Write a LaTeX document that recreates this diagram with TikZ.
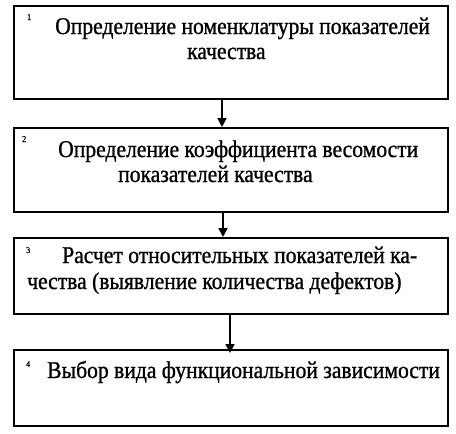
\documentclass[tikz,border=0pt]{standalone}
\usepackage{fontspec}
\setmainfont{Liberation Serif}
\newfontfamily\reffont[FakeStretch=0.9,FakeBold=1]{Liberation Serif}
\usetikzlibrary{arrows.meta}
\begin{document}
\begin{tikzpicture}[x=1pt,y=-1pt,
  box/.style={draw=black,line width=1.8pt,rectangle,inner sep=0pt,anchor=north west},
  txt/.style={inner sep=0pt,font=\reffont\fontsize{24}{26}\selectfont,anchor=base west},
  num/.style={inner sep=0pt,font=\reffont\fontsize{9}{10}\selectfont,anchor=base west},
  arr/.style={line width=1.8pt,-{Triangle[length=9pt,width=9pt]}}]
\useasboundingbox (0,0) rectangle (456,434);
\node[box,minimum width=434pt,minimum height=93pt] (b1) at (13,5) {};
\node[box,minimum width=434pt,minimum height=84pt] (b2) at (13,127) {};
\node[box,minimum width=434pt,minimum height=76pt] (b3) at (13,237) {};
\node[box,minimum width=434pt,minimum height=76pt] (b4) at (13,349) {};
\draw[arr] (b1.south -| 222,0) -- (b2.north -| 222,0);
\draw[arr] (b2.south -| 223,0) -- (b3.north -| 223,0);
\draw[arr] (b3.south -| 230,0) -- ([yshift=-4pt]b4.north -| 230,0);
\node[num] (n1) at (27,20) {1};
\node[num] (n2) at (22,142) {2};
\node[num] (n3) at (26,253) {3};
\node[num] (n4) at (26,367) {4};
\node[txt] (t1a) at (55,34) {Определение номенклатуры показателей};
\node[txt] (t1b) at (187,59) {качества};
\node[txt] (t2a) at (58,157) {Определение коэффициента весомости};
\node[txt] (t2b) at (118,182) {показателей качества};
\node[txt] (t3a) at (62,263) {Расчет относительных показателей ка-};
\node[txt] (t3b) at (27,289) {чества (выявление количества дефектов)};
\node[txt] (t4) at (47,378) {Выбор вида функциональной зависимости};
\end{tikzpicture}
\end{document}
